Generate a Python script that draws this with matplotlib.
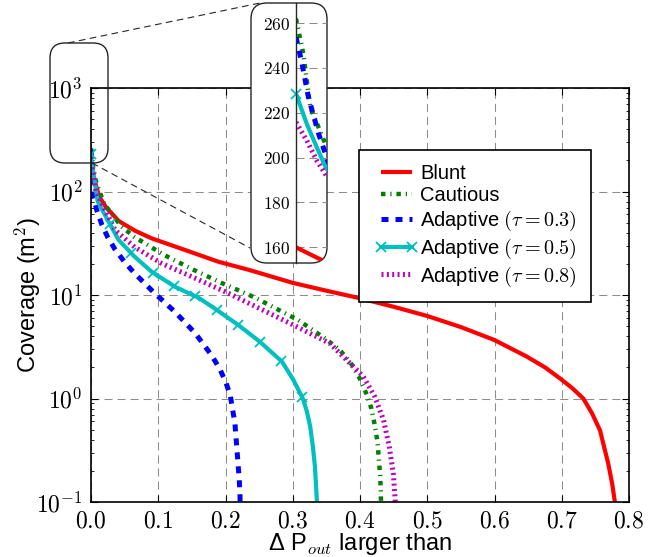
import numpy as np
import matplotlib
matplotlib.use('Agg')
import matplotlib.pyplot as plt
from matplotlib.patches import FancyBboxPatch
from matplotlib.lines import Line2D
from matplotlib.legend_handler import HandlerLine2D
from matplotlib.ticker import FixedLocator, FuncFormatter, LogLocator, NullFormatter, NullLocator

plt.rcParams['font.family'] = ['Liberation Sans', 'DejaVu Sans']
plt.rcParams['mathtext.fontset'] = 'cm'

# ---------------- data ----------------
series_labels = ['Blunt', 'Cautious', r'Adaptive $(\tau = 0.3)$',
                 r'Adaptive $(\tau = 0.5)$', r'Adaptive $(\tau = 0.8)$']

blunt_x = [0, 0.00073, 0.005, 0.0124, 0.022, 0.041, 0.0654, 0.090, 0.140, 0.189,
           0.236, 0.30, 0.35, 0.40, 0.45, 0.50, 0.55, 0.60, 0.648, 0.675, 0.697,
           0.715, 0.732, 0.745, 0.757, 0.763, 0.769, 0.775, 0.779, 0.783]
blunt_y = [160, 155, 129, 89, 71, 52, 41.8, 35.3, 27.2, 21.0,
           17.4, 13.1, 11.0, 9.3, 7.7, 6.27, 4.9, 3.67, 2.54, 2.0, 1.57,
           1.27, 1.0, 0.72, 0.49, 0.34, 0.237, 0.15, 0.1, 0.05]

cautious_x = [0, 0.00024, 0.00046, 0.00095, 0.008, 0.02, 0.0446, 0.064, 0.107, 0.151,
              0.195, 0.243, 0.308, 0.350, 0.370, 0.386, 0.399, 0.409, 0.417, 0.422,
              0.426, 0.428, 0.430, 0.431, 0.432]
cautious_y = [262, 246, 222.5, 206, 120, 75, 46.4, 36.6, 24.7, 17.7,
              13.0, 9.5, 5.73, 3.73, 2.94, 2.22, 1.59, 1.13, 0.80, 0.55,
              0.38, 0.26, 0.18, 0.123, 0.05]

adapt03_x = [0, 0.000185, 0.0004, 0.00073, 0.00095, 0.0025, 0.0085, 0.016, 0.025, 0.0357,
             0.0495, 0.064, 0.079, 0.094, 0.110, 0.125, 0.155, 0.179, 0.191, 0.200,
             0.207, 0.214, 0.2175, 0.2205, 0.2216, 0.222]
adapt03_y = [253.8, 242.6, 227, 210.6, 201.7, 95, 66.3, 48, 36, 27.6,
             21, 16.4, 13.1, 10.5, 8.43, 6.85, 4.27, 2.63, 1.96, 1.46,
             1.08, 0.575, 0.295, 0.163, 0.114, 0.05]

adapt05_x = [0, 0.00035, 0.00067, 0.00098, 0.010, 0.041, 0.065, 0.090, 0.125, 0.160,
             0.188, 0.219, 0.251, 0.284, 0.301, 0.315, 0.321, 0.326, 0.330, 0.333, 0.336, 0.337]
adapt05_y = [228.5, 215, 204.6, 195, 80, 34, 23.4, 16.8, 12.0, 9.4,
             7.1, 5.13, 3.54, 2.27, 1.51, 1.0, 0.75, 0.534, 0.34, 0.22, 0.1, 0.05]
adapt05_marker_x = [0.0, 0.028, 0.060, 0.092, 0.123, 0.155, 0.187, 0.219, 0.251, 0.283, 0.314]

adapt08_x = [0, 0.00035, 0.00067, 0.00098, 0.0074, 0.020, 0.0357, 0.065, 0.105, 0.150,
             0.199, 0.301, 0.355, 0.380, 0.405, 0.422, 0.435, 0.4435, 0.4495, 0.4525, 0.454]
adapt08_y = [215.8, 207.6, 198.7, 192, 100, 68, 42.5, 29, 20.2, 15.0,
             10.8, 5.13, 3.41, 2.36, 1.63, 1.04, 0.62, 0.342, 0.19, 0.1, 0.05]

x_ticks = [0.0, 0.1, 0.2, 0.3, 0.4, 0.5, 0.6, 0.7, 0.8]
y_ticks = [0.1, 1, 10, 100, 1000]
inset_y_ticks = [160, 180, 200, 220, 240, 260]

# ---------------- styles ----------------
styles = [
    dict(color='r', lw=3.0, linestyle='-'),
    dict(color='g', lw=3.2, linestyle=(0, (1.0, 1.1, 0.27, 1.1))),
    dict(color='b', lw=3.6, linestyle=(0, (1.4, 1.4))),
    dict(color='c', lw=3.0, linestyle='-'),
    dict(color='m', lw=3.6, linestyle=(0, (0.4, 0.67))),
]
marker_style = dict(marker='x', ms=7, mew=1.3, color='c')

W, H = 661, 557
fig = plt.figure(figsize=(W / 100, H / 100), dpi=100)

def px_rect(x0, y0, x1, y1):
    return [x0 / W, 1 - y1 / H, (x1 - x0) / W, (y1 - y0) / H]

ax = fig.add_axes(px_rect(91, 88, 629, 502))
ax.set_zorder(0)

all_x = [blunt_x, cautious_x, adapt03_x, adapt05_x, adapt08_x]
all_y = [blunt_y, cautious_y, adapt03_y, adapt05_y, adapt08_y]

marker_y = 10 ** np.interp(adapt05_marker_x, adapt05_x, np.log10(adapt05_y))

def draw_curves(a):
    hs = []
    for xs, ys, st in zip(all_x, all_y, styles):
        h, = a.plot(xs, ys, solid_capstyle='butt', dash_capstyle='butt',
                    solid_joinstyle='round', **st)
        hs.append(h)
    m, = a.plot(adapt05_marker_x, marker_y, linestyle='none', **marker_style)
    return hs + [m]

handles = draw_curves(ax)[:5]
ax.set_yscale('log')
ax.set_xlim(0, 0.8)
ax.set_ylim(0.1, 1000)

ax.xaxis.set_major_locator(FixedLocator(x_ticks))
ax.xaxis.set_major_formatter(FuncFormatter(lambda v, p: r'$%.1f$' % v))
ax.yaxis.set_major_locator(FixedLocator(y_ticks))
ax.yaxis.set_major_formatter(FuncFormatter(lambda v, p: r'$10^{%d}$' % int(round(np.log10(v)))))
ax.yaxis.set_minor_locator(LogLocator(base=10, subs=np.arange(2, 10), numticks=20))
ax.yaxis.set_minor_formatter(NullFormatter())
ax.tick_params(which='both', direction='in', top=True, right=True, labelsize=17)
ax.tick_params(which='major', length=5, width=0.8, pad=6)
ax.tick_params(which='minor', length=2.5, width=0.6)
ax.grid(True, which='major', color='0.55', linestyle=(0, (7.7, 4.8)), lw=0.75)
for s in ax.spines.values():
    s.set_linewidth(1.2)

ax.set_xlabel('\u0394 P$_{out}$ larger than', fontsize=17, va='baseline')
ax.xaxis.set_label_coords(0.5, (502 - 550) / 414)
ax.set_ylabel(r'Coverage (m$^2$)', fontsize=17, va='center')
ax.yaxis.set_label_coords((28 - 91) / 538, 0.5)

# legend
legend_handles = list(handles)
legend_handles[3] = Line2D([], [], color='c', lw=3.0, marker='x', ms=7, mew=1.3)
leg = ax.legend(legend_handles, series_labels, loc='upper left',
                bbox_to_anchor=(359 / W, 1 - 150 / H), bbox_transform=fig.transFigure,
                borderaxespad=0, fontsize=14.5, fancybox=False, framealpha=1,
                edgecolor='k', handlelength=1.95, handletextpad=0.4,
                labelspacing=0.18, borderpad=0.68,
                handler_map={Line2D: HandlerLine2D(marker_pad=0, xpad=0.4, numpoints=2)})
leg.get_frame().set_linewidth(1.2)

# rounded boxes and connectors, in inch coordinates
tr = fig.dpi_scale_trans

def ipt(x, y):
    return x / 100, (H - y) / 100

def rbox(x0, y0, x1, y1, r, face, z):
    (a, b) = ipt(x0, y1)
    p = FancyBboxPatch((a, b), (x1 - x0) / 100, (y1 - y0) / 100,
                       boxstyle='round,pad=0,rounding_size=%f' % (r / 100),
                       transform=tr, facecolor=face, edgecolor='0.15', lw=1.0, zorder=z)
    fig.add_artist(p)
    return p

rbox(50, 43, 108, 163, 15, 'none', 3)
inset_box = rbox(251, 3, 327, 263, 16, 'white', 1)

for (p0, p1) in [((68, 43), (260, 3)), ((92, 163), (250, 248))]:
    (a0, b0), (a1, b1) = ipt(*p0), ipt(*p1)
    fig.add_artist(Line2D([a0, a1], [b0, b1], transform=tr, color='0.15', lw=0.8,
                          linestyle=(0, (6, 4)), zorder=3))

# inset
axi = fig.add_axes(px_rect(296, 3, 327, 263))
axi.set_zorder(2)
axi.patch.set_alpha(0)
for ln in draw_curves(axi):
    ln.set_clip_path(inset_box)
axi.set_xlim(0, 0.001)
axi.set_ylim(153, 269)
axi.xaxis.set_major_locator(NullLocator())
axi.yaxis.set_major_locator(FixedLocator(inset_y_ticks))
axi.yaxis.set_major_formatter(FuncFormatter(lambda v, p: r'$%d$' % int(v)))
axi.tick_params(axis='y', length=0, labelsize=12.5, pad=4)
axi.grid(True, axis='y', color='0.55', linestyle=(0, (7.7, 4.8)), lw=0.75)
for k in ['top', 'right', 'bottom']:
    axi.spines[k].set_visible(False)
axi.spines['left'].set_linewidth(1.0)
axi.spines['left'].set_color('0.15')

fig.savefig('out.png', dpi=100)
